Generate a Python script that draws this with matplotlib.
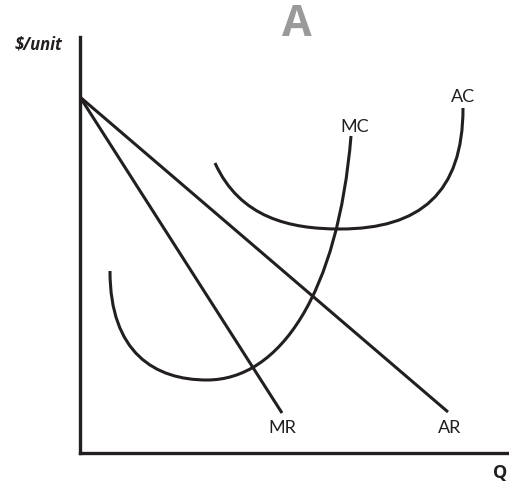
import matplotlib.pyplot as plt
from matplotlib.path import Path
from matplotlib.patches import PathPatch

# straight lines: (Q, price) end points
ar_x = [0, 368]
ar_y = [356, 41]
mr_x = [0, 202]
mr_y = [356, 40]

# cubic bezier control points for the cost curves
mc_pts = [(30, 182), (30, 100), (75, 73), (127, 73),
          (200, 73), (258, 160), (271, 317)]
ac_pts = [(135, 290), (160, 235), (210, 224), (260, 224),
          (340, 224), (383, 260), (383, 345)]

# curve labels: (text, x, y)
labels = [("MC", 275, 326), ("AC", 383, 356), ("MR", 202, 25), ("AR", 370, 25)]

fig = plt.figure(figsize=(5.10, 4.84), dpi=100)
ax = fig.add_axes([80 / 510, 31 / 484, 430 / 510, 416 / 484])
ax.set_xlim(0, 430)
ax.set_ylim(0, 416)
for s in ["top", "right"]:
    ax.spines[s].set_visible(False)
for s in ["left", "bottom"]:
    ax.spines[s].set_linewidth(2.4)
    ax.spines[s].set_color("#231f20")
ax.set_xticks([])
ax.set_yticks([])

lw = 2.2
col = "#231f20"
ax.plot(ar_x, ar_y, color=col, lw=lw, solid_capstyle="butt")
ax.plot(mr_x, mr_y, color=col, lw=lw, solid_capstyle="butt")

codes = [Path.MOVETO] + [Path.CURVE4] * 6
for pts in [mc_pts, ac_pts]:
    ax.add_patch(PathPatch(Path(pts, codes), fill=False, edgecolor=col, lw=lw))

for t, x, y in labels:
    ax.text(x, y, t, ha="center", va="center", fontsize=13, family="Lato", color=col)

fig.text(297 / 510, 1 - 24 / 484, "A", ha="center", va="center", fontsize=31,
         fontweight="bold", color="#9a9a9a", family="Open Sans")
fig.text(39 / 510, 1 - 45 / 484, "$/unit", ha="center", va="center", fontsize=12,
         fontweight="bold", fontstyle="italic", color=col, family="Open Sans")
fig.text(507 / 510, 1 - 473 / 484, "Q", ha="right", va="center", fontsize=13,
         fontweight="bold", color=col, family="Open Sans")

fig.savefig("out.png", dpi=100)
